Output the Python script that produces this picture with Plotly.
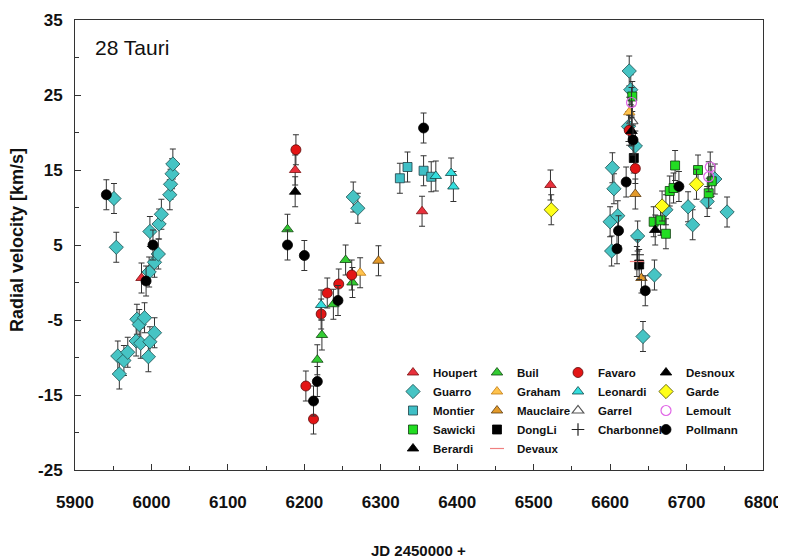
import plotly.graph_objects as go

# ---------------- data (JD 2450000 +, radial velocity km/s) ----------------
houpert_jd = [5987, 6188, 6354, 6522]
houpert_rv = [0.6, 15.0, 9.5, 13.0]

buil_jd = [6178, 6217, 6223, 6238, 6254, 6263]
buil_rv = [7.1, -10.3, -7.0, -2.9, 3.0, 0.0]

favaro_jd = [6189, 6202, 6212, 6222, 6230, 6245, 6262, 6625, 6633]
favaro_rv = [17.7, -13.8, -18.2, -4.2, -1.4, -0.2, 1.0, 20.3, 15.2]

desnoux_jd = [6628, 6659]
desnoux_rv = [20.2, 7.0]

guarro_jd = [5951, 5954, 5956, 5958, 5964, 5969, 5980, 5981, 5984, 5986, 5991, 5996,
             5997, 5998, 5998, 6004, 6004, 6009, 6010, 6013, 6024, 6025, 6027, 6028,
             6264, 6270,
             6600, 6602, 6603, 6605, 6610, 6624, 6625, 6627, 6633, 6636, 6643, 6658,
             6673, 6702, 6708, 6727, 6737, 6753]
guarro_rv = [11.2, 4.7, -9.8, -12.2, -10.4, -9.3, -7.8, -4.9, -5.6, -8.1, -4.7, -9.9,
             1.4, 6.8, -7.9, 2.7, -6.7, 3.8, 7.8, 9.1, 11.7, 13.1, 14.5, 15.8,
             11.4, 9.9,
             8.1, 4.2, 15.3, 12.5, 8.9, 20.8, 28.2, 25.7, 18.2, 6.2, -7.2, 1.0,
             9.7, 10.1, 7.7, 10.8, 13.8, 9.4]

graham_jd = [6273, 6625]
graham_rv = [1.3, 22.7]

leonardi_jd = [6222, 6372, 6392, 6395]
leonardi_rv = [-3.0, 14.2, 14.6, 12.8]

garde_jd = [6523, 6668, 6713]
garde_rv = [9.7, 10.2, 13.1]

montier_jd = [6325, 6335, 6356, 6366]
montier_rv = [13.9, 15.4, 14.9, 14.1]

mauclaire_jd = [6297, 6633, 6641]
mauclaire_rv = [2.9, 11.8, 0.6]

garrel_jd = [6629]
garrel_rv = [21.5]

lemoult_jd = [6628, 6731, 6729]
lemoult_rv = [24.0, 15.4, 14.1]

sawicki_jd = [6629, 6657, 6666, 6673, 6678, 6683, 6685, 6715, 6733, 6729]
sawicki_rv = [24.8, 8.1, 8.3, 6.5, 12.2, 12.6, 15.6, 15.0, 13.5, 11.9]

dongli_jd = [6631, 6638]
dongli_rv = [16.6, 2.4]

charbonnel_jd = [6636]
charbonnel_rv = [3.7]

pollmann_jd = [5941, 5993, 6002, 6178, 6200, 6212, 6217, 6244, 6356,
               6609, 6611, 6621, 6630, 6646, 6690]
pollmann_rv = [11.7, 0.2, 5.0, 5.0, 3.6, -15.8, -13.2, -2.4, 20.6,
               4.5, 6.9, 13.4, 19.0, -1.1, 12.8]

berardi_jd = [6188]
berardi_rv = [12.1]

devaux_jd = [6635]
devaux_rv = [2.8]

rv_error = 2.0

x_ticks = [5900, 6000, 6100, 6200, 6300, 6400, 6500, 6600, 6700, 6800]
y_ticks = [-25, -15, -5, 5, 15, 25, 35]

# ---------------- styling ----------------
SANS = "Liberation Sans, Arial, sans-serif"

# name, x, y, symbol, fill, line colour, size, legend
series = [
    ("Houpert", houpert_jd, houpert_rv, "triangle-up", "#e8303c", "#7a1010", 10, "legend"),
    ("Guarro", guarro_jd, guarro_rv, "diamond", "#46c4c4", "#1f4f4f", 11, "legend"),
    ("Montier", montier_jd, montier_rv, "square", "#3fbfc6", "#1f3f45", 9, "legend"),
    ("Sawicki", sawicki_jd, sawicki_rv, "square", "#22dd22", "#103a10", 9, "legend"),
    ("Berardi", berardi_jd, berardi_rv, "triangle-up", "#000000", "#000000", 10, "legend"),
    ("Buil", buil_jd, buil_rv, "triangle-up", "#33cc33", "#114411", 10, "legend2"),
    ("Graham", graham_jd, graham_rv, "triangle-up", "#ffc34d", "#c07a10", 10, "legend2"),
    ("Mauclaire", mauclaire_jd, mauclaire_rv, "triangle-up", "#e39a2a", "#5a3a10", 10, "legend2"),
    ("DongLi", dongli_jd, dongli_rv, "square", "#000000", "#000000", 9, "legend2"),
    ("Devaux", devaux_jd, devaux_rv, "line-ew-open", "#f08080", "#f08080", 10, "legend2"),
    ("Favaro", favaro_jd, favaro_rv, "circle", "#e31515", "#5a0a0a", 10, "legend3"),
    ("Leonardi", leonardi_jd, leonardi_rv, "triangle-up", "#33dede", "#134848", 10, "legend3"),
    ("Garrel", garrel_jd, garrel_rv, "triangle-up-open", "#555555", "#555555", 10, "legend3"),
    ("Charbonnel", charbonnel_jd, charbonnel_rv, "cross-thin-open", "#222222", "#222222", 9, "legend3"),
    ("Desnoux", desnoux_jd, desnoux_rv, "triangle-up", "#000000", "#000000", 10, "legend4"),
    ("Garde", garde_jd, garde_rv, "diamond", "#ffff1a", "#4a4a00", 11, "legend4"),
    ("Lemoult", lemoult_jd, lemoult_rv, "circle-open", "#e066e6", "#e066e6", 10, "legend4"),
    ("Pollmann", pollmann_jd, pollmann_rv, "circle", "#000000", "#000000", 10, "legend4"),
]

fig = go.Figure()
for name, xs, ys, sym, fill, line, size, leg in series:
    fig.add_trace(go.Scatter(
        x=xs, y=ys, name=name, mode="markers", legend=leg,
        marker=dict(symbol=sym, color=fill, size=size,
                    line=dict(color=line, width=1.2 if "open" in sym else 0.8)),
        error_y=dict(type="constant", value=rv_error, color="#333333",
                     thickness=1, width=3),
    ))

# page body has an 8px default margin -> compensate
OFF = 8
W, H = 786 - OFF, 558 - OFF
# plot area in screen pixels
SX0, SX1, SY0, SY1 = 75, 763, 20, 470
L = SX0 - OFF
T = SY0 - OFF
R = W - (SX1 - OFF)
B = H - (SY1 - OFF)
PW, PH = SX1 - SX0, SY1 - SY0


def px(xp):
    return (xp - SX0) / PW


def py(yp):
    return 1 - (yp - SY0) / PH


legend_common = dict(
    font=dict(family=SANS, size=11.5, color="#111111", weight="bold"),
    bgcolor="rgba(0,0,0,0)", borderwidth=0, itemwidth=30,
    xanchor="left", yanchor="top", tracegroupgap=0,
)
legend_top = py(358)
fig.update_layout(
    legend=dict(x=px(433 - 40), y=legend_top, **legend_common),
    legend2=dict(x=px(517 - 40), y=legend_top, **legend_common),
    legend3=dict(x=px(598 - 40), y=legend_top, **legend_common),
    legend4=dict(x=px(686 - 40), y=legend_top, **legend_common),
)

fig.update_xaxes(
    range=[5900, 6800], tickvals=x_ticks, ticktext=[str(v) for v in x_ticks],
    ticks="inside", ticklen=6, tickcolor="#333333", tickwidth=1,
    minor=dict(dtick=50, tick0=5900, ticks="inside", ticklen=4, tickcolor="#333333"),
    showline=True, linecolor="#333333", linewidth=1, mirror=True,
    showgrid=False, zeroline=False, automargin=False,
    tickfont=dict(family=SANS, size=17, color="#111111", weight="bold"),
    ticklabelstandoff=17,
)
fig.update_yaxes(
    range=[-25, 35], tickvals=y_ticks, ticktext=[str(v) for v in y_ticks],
    ticks="inside", ticklen=6, tickcolor="#333333", tickwidth=1,
    minor=dict(dtick=5, tick0=-25, ticks="inside", ticklen=4, tickcolor="#333333"),
    showline=True, linecolor="#333333", linewidth=1, mirror=True,
    showgrid=False, zeroline=False, automargin=False,
    tickfont=dict(family=SANS, size=17, color="#111111", weight="bold"),
    ticklabelstandoff=8,
)

fig.add_annotation(text="28 Tauri", xref="paper", yref="paper",
                   x=px(93), y=py(47), xanchor="left", yanchor="middle",
                   showarrow=False, font=dict(family=SANS, size=21, color="#111111"))
fig.add_annotation(text="<b>JD 2450000 +</b>", xref="paper", yref="paper",
                   x=px(418), y=py(550), xanchor="center", yanchor="middle",
                   showarrow=False, font=dict(family=SANS, size=15, color="#111111"))
fig.add_annotation(text="<b>Radial velocity [km/s]</b>", xref="paper", yref="paper",
                   x=px(17), y=py(240), xanchor="center", yanchor="middle",
                   textangle=-90, showarrow=False,
                   font=dict(family=SANS, size=18, color="#111111"))

fig.update_layout(
    width=W, height=H,
    margin=dict(l=L, r=R, t=T, b=B, autoexpand=False),
    paper_bgcolor="white", plot_bgcolor="white",
    showlegend=True,
)

fig.write_html("out.html")
